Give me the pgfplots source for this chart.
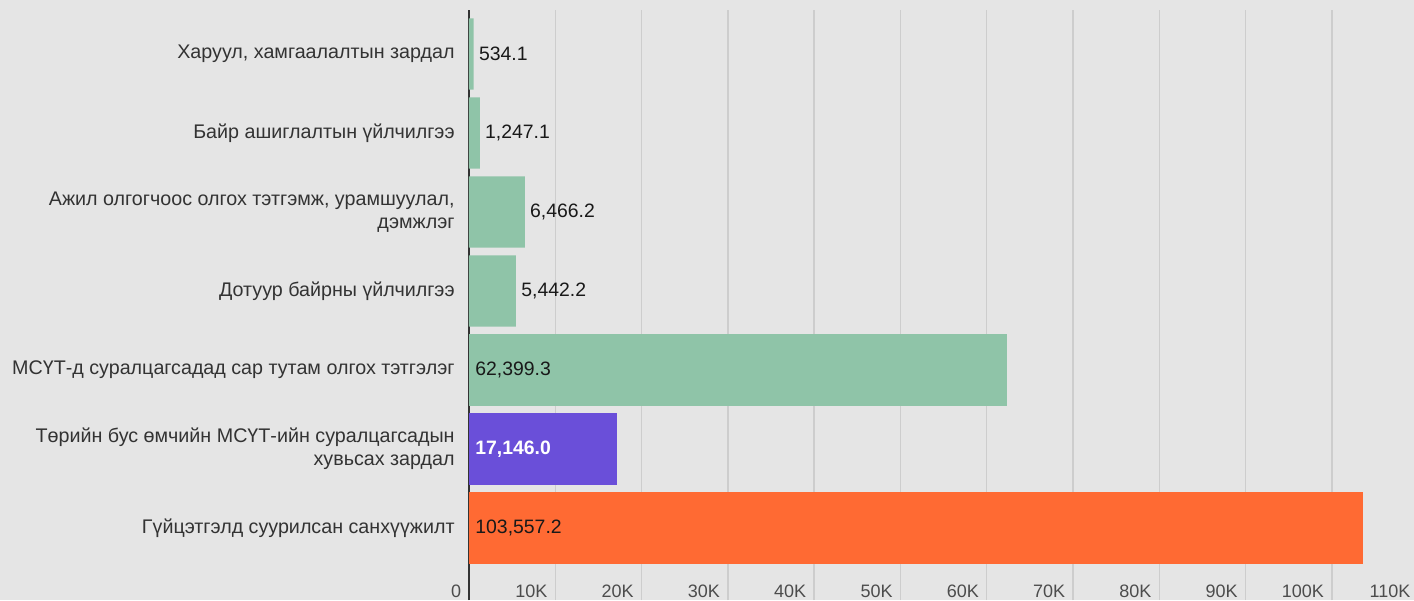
\documentclass[border=0pt]{standalone}
\usepackage{pgfplots}
\pgfplotsset{compat=1.18}
\usepackage{fontspec}
\setmainfont{Liberation Sans}
\definecolor{bg}{HTML}{E5E5E5}
\definecolor{grn}{HTML}{8FC4A8}
\definecolor{prp}{HTML}{6A4FD9}
\definecolor{org}{HTML}{FF6A33}
\definecolor{grd}{HTML}{CDCDCD}
\definecolor{txt}{HTML}{333333}
\newcommand\lab{\fontsize{9}{10.8}\selectfont}
\newcommand\cat{\fontsize{9.85}{11.5}\selectfont}
\newcommand\val{\fontsize{9.7}{11}\selectfont}
\begin{document}
\begin{tikzpicture}
\path[use as bounding box, fill=bg] (-234.5pt,0pt) rectangle (472.5pt,300pt);
\begin{axis}[
  at={(0pt,0pt)}, anchor=south west,
  scale only axis, width=474.6pt, height=295pt,
  xmin=0, xmax=110000, ymin=-0.911, ymax=6.557,
  axis lines*=left,
  x axis line style={draw=none},
  y axis line style={draw=black!80, line width=1pt},
  xmajorgrids, grid style={draw=grd, line width=0.7pt},
  major tick length=0pt,
  xtick={0,10000,...,110000},
  xticklabels={0,10K,20K,30K,40K,50K,60K,70K,80K,90K,100K,110K},
  scaled x ticks=false,
  xticklabel style={anchor=base east, inner sep=0pt, xshift=-3.75pt, yshift=1.5pt, font=\lab, text=black!70},
  ytick={0,...,6},
  yticklabels={
    {Гүйцэтгэлд суурилсан санхүүжилт},
    {Төрийн бус өмчийн МСҮТ-ийн суралцагсадын\\хувьсах зардал},
    {МСҮТ-д суралцагсадад сар тутам олгох тэтгэлэг},
    {Дотуур байрны үйлчилгээ},
    {Ажил олгогчоос олгох тэтгэмж, урамшуулал,\\дэмжлэг},
    {Байр ашиглалтын үйлчилгээ},
    {Харуул, хамгаалалтын зардал}},
  yticklabel style={anchor=east, inner sep=0pt, xshift=-7pt, align=right, font=\cat, text=txt},
  /pgf/number format/fixed,
  /pgf/number format/fixed zerofill,
  /pgf/number format/precision=1,
  /pgf/number format/1000 sep={,},
  /pgf/number format/assume math mode=true,
]
\addplot[xbar, bar shift=0pt, bar width=0.9, fill=grn, draw=none,
  nodes near coords, point meta=x,
  every node near coord/.append style={anchor=west, inner sep=0pt, xshift=2.5pt, font=\val, text=black!90}]
  coordinates {(534.1,6) (1247.1,5) (6466.2,4) (5442.2,3)};
\addplot[xbar, bar shift=0pt, bar width=0.9, fill=grn, draw=none] coordinates {(62399.3,2)};
\addplot[xbar, bar shift=0pt, bar width=0.9, fill=prp, draw=none] coordinates {(17146.0,1)};
\addplot[xbar, bar shift=0pt, bar width=0.9, fill=org, draw=none] coordinates {(103557.2,0)};
\addplot[only marks, mark=*, mark size=0pt, draw=none,
  nodes near coords, point meta=explicit,
  every node near coord/.append style={anchor=west, inner sep=0pt, xshift=3pt, font=\val, text=black!90}]
  coordinates {(0,2) [62399.3] (0,0) [103557.2]};
\addplot[only marks, mark=*, mark size=0pt, draw=none,
  nodes near coords, point meta=explicit,
  every node near coord/.append style={anchor=west, inner sep=0pt, xshift=3pt, font=\val\bfseries, text=white}]
  coordinates {(0,1) [17146.0]};
\end{axis}
\end{tikzpicture}
\end{document}
